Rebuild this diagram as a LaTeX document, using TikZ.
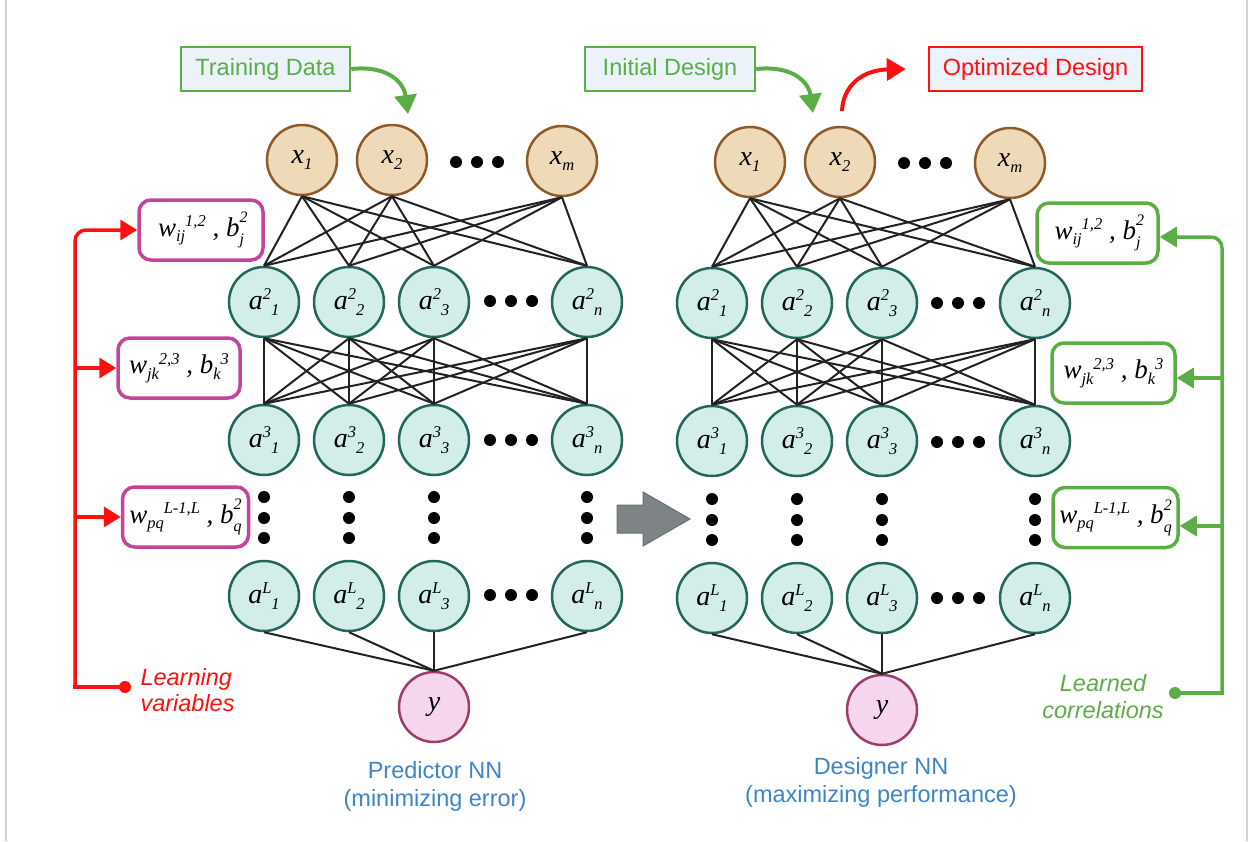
\documentclass[tikz,border=0pt]{standalone}
\usepackage{fontspec}
\setmainfont{Liberation Serif}
\newfontfamily\lsans{Liberation Sans}
\usetikzlibrary{arrows.meta,calc}
\definecolor{grn}{HTML}{5BAE46}
\definecolor{rd}{HTML}{FF1010}
\definecolor{mag}{HTML}{C4449C}
\definecolor{boxf}{HTML}{EBF2FA}
\definecolor{blu}{HTML}{3D85C6}
\definecolor{inpf}{HTML}{EED9B9}
\definecolor{inpb}{HTML}{8E5A2A}
\definecolor{hidf}{HTML}{D3EDE8}
\definecolor{hidb}{HTML}{22675A}
\definecolor{outf}{HTML}{F6D6EE}
\definecolor{outb}{HTML}{9E3C6C}
\definecolor{linec}{HTML}{222222}
\definecolor{garf}{HTML}{7E8385}
\definecolor{garb}{HTML}{6A6E70}
\newcommand\up[1]{\raisebox{0.36em}{\fontsize{16.5}{16.5}\selectfont #1}}
\newcommand\dn[1]{\raisebox{-0.2em}{\fontsize{16.5}{16.5}\selectfont #1}}
\newcommand\hup[1]{\raisebox{0.5em}{\fontsize{16}{16}\selectfont #1}}
\newcommand\ldn[1]{\raisebox{-0.32em}{\fontsize{16}{16}\selectfont #1}}
\newcommand\updn[2]{\rlap{\hup{#1}}\ldn{#2}}
\newcommand\nodefnt{\fontsize{28}{30}\selectfont\itshape}
\newcommand\boxfnt{\fontsize{27}{30}\selectfont\itshape}
\begin{document}
\begin{tikzpicture}[x=1pt,y=-1pt,
  conn/.style={draw=linec, line width=2pt},
  inp/.style={circle, draw=inpb, fill=inpf, line width=2.5pt, minimum size=70pt, inner sep=0pt, font=\nodefnt},
  hid/.style={circle, draw=hidb, fill=hidf, line width=2.5pt, minimum size=70pt, inner sep=0pt, font=\nodefnt},
  outn/.style={circle, draw=outb, fill=outf, line width=2.5pt, minimum size=70pt, inner sep=0pt, font=\nodefnt},
  lbox/.style={draw=#1, text=#1, line width=2.5pt, fill=boxf, minimum height=44pt, inner sep=0pt, font=\lsans\fontsize{23.5}{26}\selectfont},
  wbox/.style={draw=#1, line width=3.5pt, rounded corners=12pt, fill=white, minimum height=60pt, inner sep=0pt, font=\boxfnt},
  bigarr/.style={line width=4pt, -{Triangle[length=19pt,width=22pt]}},
  barln/.style={line width=3.5pt},
  barar/.style={line width=3.5pt, -{Triangle[length=17pt,width=20pt]}},
  nnlbl/.style={align=center, text=blu, font=\lsans\fontsize{23.5}{28}\selectfont},
  dotc/.style={fill=black}
]
\useasboundingbox (0,0) rectangle (1250,841);
\draw[black!18, line width=1.5pt] (6,0) -- (6,841);
\draw[black!18, line width=1.5pt] (1247,0) -- (1247,841);

% ---------- left network ----------
\node[inp] (L-x1) at (302,160) {x\dn{1}};
\node[inp] (L-x2) at (392,160) {x\dn{2}};
\node[inp] (L-xm) at (562,161) {x\dn{m}};
\foreach \j/\xx in {1/264,2/349,3/434,n/587}{
  \node[hid] (L-2-\j) at (\xx,302) {a\up{2}\dn{\j}};
  \node[hid] (L-3-\j) at (\xx,440) {a\up{3}\dn{\j}};
  \node[hid] (L-L-\j) at (\xx,596) {a\up{L}\dn{\j}};
  \foreach \yy in {497,518,538} \fill[dotc] (\xx,\yy) circle (6);
}
\node[outn] (L-y) at (434,707) {y};

% ---------- right network ----------
\node[inp] (R-x1) at (750,162) {x\dn{1}};
\node[inp] (R-x2) at (840,162) {x\dn{2}};
\node[inp] (R-xm) at (1010,163) {x\dn{m}};
\foreach \j/\xx in {1/712,2/797,3/882,n/1035}{
  \node[hid] (R-2-\j) at (\xx,303) {a\up{2}\dn{\j}};
  \node[hid] (R-3-\j) at (\xx,441) {a\up{3}\dn{\j}};
  \node[hid] (R-L-\j) at (\xx,598) {a\up{L}\dn{\j}};
  \foreach \yy in {499,520,540} \fill[dotc] (\xx,\yy) circle (6);
}
\node[outn] (R-y) at (882,710) {y};

% horizontal dots
\foreach \xx in {456,477,498} \fill[dotc] (\xx,162) circle (6);
\foreach \xx in {904,925,946} \fill[dotc] (\xx,163) circle (6);
\foreach \xx in {490,511,532}{
  \fill[dotc] (\xx,301) circle (6);
  \fill[dotc] (\xx,440) circle (6);
  \fill[dotc] (\xx,595) circle (6);
}
\foreach \xx in {937,958,979}{
  \fill[dotc] (\xx,303) circle (6);
  \fill[dotc] (\xx,442) circle (6);
  \fill[dotc] (\xx,598) circle (6);
}

% connections
\foreach \s in {L,R}{
  \foreach \i in {1,2,m}{
    \foreach \j in {1,2,3,n}{
      \draw[conn] (\s-x\i.south) -- (\s-2-\j.north);
    }
  }
  \foreach \i in {1,2,3,n}{
    \foreach \j in {1,2,3,n}{
      \draw[conn] (\s-2-\i.south) -- (\s-3-\j.north);
    }
    \draw[conn] (\s-L-\i.south) -- (\s-y.north);
  }
}

% ---------- top labels ----------
\node[lbox=grn, minimum width=169pt] (TD) at (265.5,69) {Training Data};
\node[lbox=grn, minimum width=170pt] (ID) at (670,69) {Initial Design};
\node[lbox=rd, minimum width=213pt] (OD) at (1035.5,69) {Optimized Design};
\coordinate (TDtip) at (408,114);
\coordinate (IDtip) at (813,113);
\coordinate (ODstart) at (842,111);
\draw[bigarr, grn] (TD.east) .. controls (390,65) and (404,84) .. (TDtip);
\draw[bigarr, grn] (ID.east) .. controls (795,65) and (809,84) .. (IDtip);
\draw[bigarr, rd] (ODstart) .. controls (843,86) and (862,70) .. ($(OD.west)+(-22,0)$);

% ---------- parameter boxes ----------
\node[wbox=mag, minimum width=124pt] (Lb1) at (201,230) {w\dn{ij}\up{1,2} , b\updn{2}{j}};
\node[wbox=mag, minimum width=122pt] (Lb2) at (179,368) {w\dn{jk}\up{2,3} , b\dn{k}\up{3}};
\node[wbox=mag, minimum width=126pt] (Lb3) at (185.5,517) {w\dn{pq}\up{L-1,L} , b\updn{2}{q}};
\node[wbox=grn, minimum width=121pt] (Rb1) at (1097.5,233) {w\dn{ij}\up{1,2} , b\updn{2}{j}};
\node[wbox=grn, minimum width=123pt] (Rb2) at (1113.5,373) {w\dn{jk}\up{2,3} , b\dn{k}\up{3}};
\node[wbox=grn, minimum width=125pt] (Rb3) at (1115.5,517.5) {w\dn{pq}\up{L-1,L} , b\updn{2}{q}};

% ---------- left red bracket ----------
\coordinate (Ldot) at (125,687);
\coordinate (Lbus) at (75,687);
\draw[barln, rd, line cap=rect] (Ldot) -- (Lbus);
\draw[barar, rd, rounded corners=11pt] (Lbus) |- (Lb1.west);
\draw[barar, rd] (Lbus |- Lb2.west) -- (Lb2.west);
\draw[barar, rd] (Lbus |- Lb3.west) -- (Lb3.west);
\fill[rd] (Ldot) circle (6);
\node[align=left, text=rd, font=\lsans\itshape\fontsize{23.5}{26}\selectfont, anchor=west] (Llearn) at (137,690) {Learning\\variables};

% ---------- right green bracket ----------
\coordinate (Rdot) at (1175,693);
\coordinate (Rbus) at (1222,693);
\draw[barln, grn, line cap=rect] (Rdot) -- (Rbus);
\draw[barar, grn, rounded corners=11pt] (Rbus) |- ($(Rb1.east)+(0,4)$);
\draw[barar, grn] (Rbus |- 0,378) -- (Rb2.east |- 0,378);
\draw[barar, grn] (Rbus |- 0,526) -- (Rb3.east |- 0,526);
\fill[grn] (Rdot) circle (6);
\node[align=center, text=grn, font=\lsans\itshape\fontsize{23.5}{27}\selectfont] (Rlearn) at (1103,697) {Learned\\correlations};

% ---------- NN labels ----------
\node[nnlbl] (Lname) at (435,786) {Predictor NN\\(minimizing error)};
\node[nnlbl] (Rname) at (881,782) {Designer NN\\(maximizing performance)};

% ---------- transfer arrow ----------
\filldraw[fill=garf, draw=garb, line width=1pt, line join=miter]
  (617,505) -- (643,505) -- (643,492) -- (690,519) -- (643,546) -- (643,533) -- (617,533) -- cycle;
\end{tikzpicture}
\end{document}
